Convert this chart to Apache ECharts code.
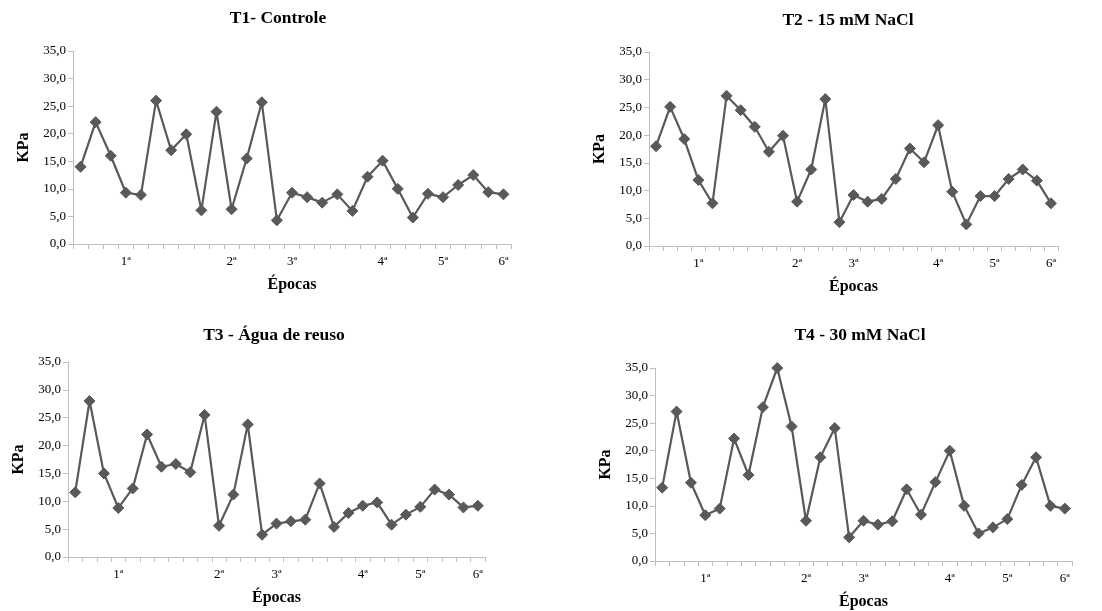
<!DOCTYPE html>
<html>
<head>
<meta charset="utf-8">
<script src="https://cdn.jsdelivr.net/npm/echarts@6/dist/echarts.min.js"></script>
<style>
html,body{margin:0;padding:0;background:#fff;}
#chart{width:1102px;height:611px;}
</style>
</head>
<body>
<div id="chart"></div>
<script>
// 29 measurement points per treatment
const categories = ['p1','p2','p3','p4','p5','p6','p7','p8','p9','p10','p11','p12','p13','p14','p15','p16','p17','p18','p19','p20','p21','p22','p23','p24','p25','p26','p27','p28','p29'];
const tickLabels = ['','','','1ª','','','','','','','2ª','','','','3ª','','','','','','4ª','','','','5ª','','','','6ª'];
const yTicks = [0,5,10,15,20,25,30,35];

const titles = ['T1- Controle','T2 - 15 mM NaCl','T3 - Água de reuso','T4 - 30 mM NaCl'];

const t1 = [14.0,22.1,16.0,9.3,8.9,26.0,17.0,19.9,6.1,24.0,6.3,15.5,25.7,4.3,9.3,8.5,7.5,9.0,6.0,12.2,15.1,10.0,4.8,9.1,8.5,10.7,12.5,9.4,9.0];
const t2 = [18.0,25.1,19.3,11.9,7.7,27.1,24.5,21.5,17.0,19.9,8.0,13.8,26.5,4.3,9.2,8.0,8.5,12.1,17.6,15.1,21.8,9.8,3.9,9.0,9.0,12.1,13.8,11.8,7.7];
const t3 = [11.6,28.0,15.0,8.8,12.3,22.0,16.2,16.7,15.2,25.5,5.6,11.2,23.8,4.0,6.0,6.4,6.7,13.2,5.4,7.9,9.2,9.8,5.8,7.6,9.0,12.1,11.2,8.9,9.2];
const t4 = [13.3,27.1,14.2,8.3,9.5,22.2,15.6,27.9,35.0,24.4,7.3,18.8,24.1,4.3,7.3,6.6,7.2,13.0,8.4,14.3,20.0,10.0,5.0,6.1,7.6,13.8,18.8,10.0,9.5];
const seriesData = [t1,t2,t3,t4];

const grids = [
  {left:73, top:51, width:438, height:193},
  {left:649, top:52, width:409, height:194},
  {left:68, top:362, width:417, height:195},
  {left:655, top:368, width:417, height:194}
];
const titlePos = [[278,18],[848,20],[274,335],[860,335]];

const font = '"Liberation Serif","Times New Roman",serif';
const axisGrey = '#bfbfbf';
const lineColor = '#595959';

const option = {
  backgroundColor:'#fff',
  animation:false,
  grid: grids.map(g => Object.assign({containLabel:false}, g)),
  xAxis: grids.map((g,i) => ({
    type:'category', gridIndex:i, data:categories, boundaryGap:true,
    name:'Épocas', nameLocation:'middle', nameGap:33,
    nameTextStyle:{fontFamily:font, fontWeight:'bold', fontSize:16, color:'#000'},
    axisLine:{lineStyle:{color:axisGrey, width:1}},
    axisTick:{show:true, interval:0, length:5, lineStyle:{color:axisGrey}},
    axisLabel:{interval:0, margin:11, fontFamily:font, fontSize:13, color:'#000',
      formatter:(v, idx) => tickLabels[idx]},
    splitLine:{show:false}
  })),
  yAxis: grids.map((g,i) => ({
    type:'value', gridIndex:i, min:0, max:35, interval:5,
    name:'KPa', nameLocation:'middle', nameGap:41,
    nameTextStyle:{fontFamily:font, fontWeight:'bold', fontSize:16, color:'#000'},
    axisLine:{show:true, lineStyle:{color:axisGrey, width:1}},
    axisTick:{show:true, length:5, lineStyle:{color:axisGrey}},
    axisLabel:{margin:7, fontFamily:font, fontSize:13, color:'#000',
      formatter:v => yTicks.indexOf(v) >= 0 ? v.toFixed(1).replace('.', ',') : ''},
    splitLine:{show:false}
  })),
  graphic: titles.map((t,i) => ({
    type:'text', x:titlePos[i][0], y:titlePos[i][1],
    style:{text:t, fontFamily:font, fontWeight:'bold', fontSize:17.5, fill:'#000',
      textAlign:'center', textVerticalAlign:'middle'}
  })),
  series: seriesData.map((d,i) => ({
    type:'line', xAxisIndex:i, yAxisIndex:i, data:d,
    symbol:'diamond', symbolSize:11,
    lineStyle:{color:lineColor, width:2.2},
    itemStyle:{color:lineColor, borderColor:lineColor},
    emphasis:{disabled:true}
  }))
};

const chart = echarts.init(document.getElementById('chart'), null, {renderer:'canvas'});
chart.setOption(option);
</script>
</body>
</html>
